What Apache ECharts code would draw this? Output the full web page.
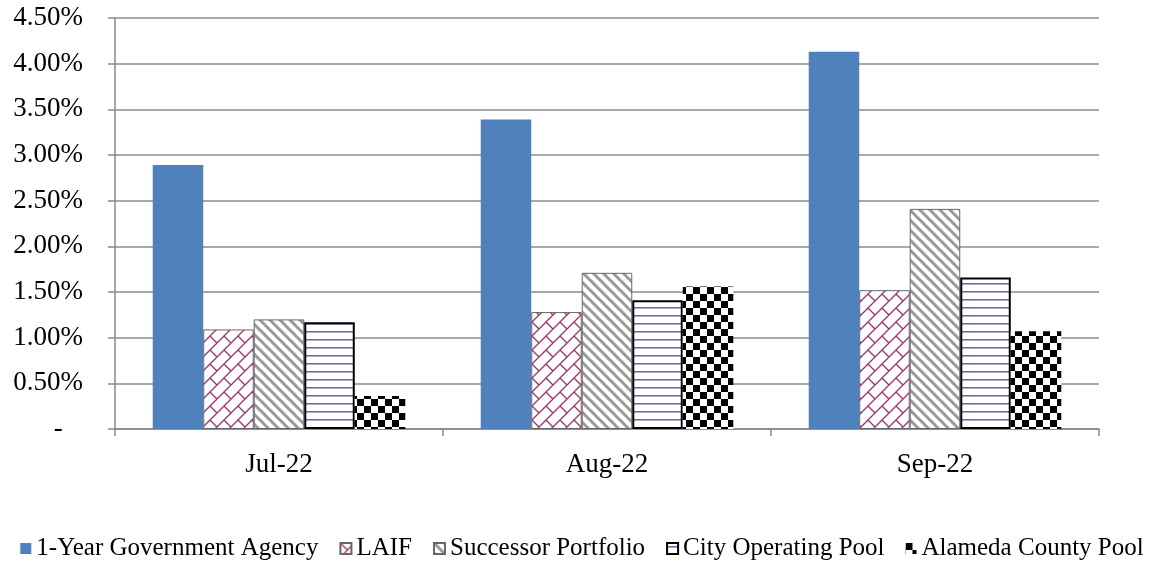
<!DOCTYPE html>
<html>
<head>
<meta charset="utf-8">
<script src="https://cdn.jsdelivr.net/npm/echarts@6/dist/echarts.min.js"></script>
<style>
html,body{margin:0;padding:0;background:#fff;}
#chart{width:1164px;height:569px;}
</style>
</head>
<body>
<div id="chart"></div>
<script>
const categories = ['Jul-22', 'Aug-22', 'Sep-22'];
const seriesNames = ['1-Year Government Agency', 'LAIF', 'Successor Portfolio', 'City Operating Pool', 'Alameda County Pool'];
const govAgency = [2.89, 3.39, 4.13];
const laif = [1.09, 1.28, 1.52];
const successor = [1.20, 1.71, 2.41];
const cityPool = [1.17, 1.41, 1.66];
const alamedaPool = [0.36, 1.56, 1.07];
const yMin = 0, yMax = 4.5, yStep = 0.5;

function makeCanvas(w, h) {
  const c = document.createElement('canvas');
  c.width = w; c.height = h;
  const ctx = c.getContext('2d');
  ctx.fillStyle = '#fff';
  ctx.fillRect(0, 0, w, h);
  return [c, ctx];
}
// LAIF: maroon diagonal brick trellis
function laifPattern() {
  const [c, ctx] = makeCanvas(14, 14);
  ctx.strokeStyle = '#a0306a';
  ctx.lineWidth = 1.3;
  ctx.beginPath();
  ctx.moveTo(-2, 16); ctx.lineTo(16, -2);
  ctx.moveTo(-2, 2); ctx.lineTo(2, -2);
  ctx.moveTo(12, 16); ctx.lineTo(16, 12);
  ctx.moveTo(0, 0); ctx.lineTo(7, 7);
  ctx.stroke();
  return c;
}
// Successor: gray diagonal stripes
function successorPattern() {
  const [c, ctx] = makeCanvas(10, 10);
  ctx.strokeStyle = '#9a9a9a';
  ctx.lineWidth = 3;
  ctx.beginPath();
  ctx.moveTo(-2, -2); ctx.lineTo(12, 12);
  ctx.moveTo(-2, 8); ctx.lineTo(2, 12);
  ctx.moveTo(8, -2); ctx.lineTo(12, 2);
  ctx.stroke();
  return c;
}
// City: horizontal slate-blue lines
function cityPattern() {
  const [c, ctx] = makeCanvas(8, 8);
  ctx.fillStyle = '#6c6ca6';
  ctx.fillRect(0, 3, 8, 1.6);
  return c;
}
// Alameda: checkerboard
function alamedaPattern() {
  const [c, ctx] = makeCanvas(14, 14);
  ctx.fillStyle = '#000';
  ctx.fillRect(0, 0, 7, 7);
  ctx.fillRect(7, 7, 7, 7);
  return c;
}

const chart = echarts.init(document.getElementById('chart'), null, {renderer: 'canvas'});
const font = '"Liberation Serif", "Times New Roman", serif';

const styles = [
  {color: '#4f81bd'},
  {color: {image: laifPattern(), repeat: 'repeat'}, borderColor: '#666', borderWidth: 1},
  {color: {image: successorPattern(), repeat: 'repeat'}, borderColor: '#666', borderWidth: 1},
  {color: {image: cityPattern(), repeat: 'repeat'}, borderColor: '#000', borderWidth: 2},
  {color: {image: alamedaPattern(), repeat: 'repeat'}}
];
const dataArr = [govAgency, laif, successor, cityPool, alamedaPool];

const option = {
  animation: false,
  backgroundColor: '#fff',
  textStyle: {fontFamily: font},
  grid: {left: 115, right: 65, top: 18, bottom: 140, containLabel: false},
  legend: {
    bottom: 3,
    left: 'center',
    itemWidth: 11,
    itemHeight: 11,
    itemGap: 21,
    icon: 'rect',
    textStyle: {fontFamily: font, fontSize: 25, color: '#000'},
    data: seriesNames
  },
  xAxis: {
    type: 'category',
    data: categories,
    axisLine: {lineStyle: {color: '#888', width: 1.5}},
    axisTick: {show: true, length: 7, lineStyle: {color: '#888', width: 1.5}},
    axisLabel: {fontFamily: font, fontSize: 27, color: '#000', margin: 22}
  },
  yAxis: {
    type: 'value',
    min: yMin, max: yMax, interval: yStep,
    axisLine: {show: true, lineStyle: {color: '#888', width: 1.5}},
    axisTick: {show: true, length: 7, lineStyle: {color: '#888', width: 1.5}},
    splitLine: {lineStyle: {color: '#8c8c8c', width: 1.5}},
    axisLabel: {
      fontFamily: font, fontSize: 27, color: '#000', margin: 32,
      formatter: v => v === 0 ? '-   ' : v.toFixed(2) + '%'
    }
  },
  series: seriesNames.map((n, i) => ({
    name: n,
    type: 'bar',
    data: dataArr[i],
    barGap: '0%',
    barCategoryGap: '23%',
    itemStyle: styles[i]
  }))
};
chart.setOption(option);
</script>
</body>
</html>
